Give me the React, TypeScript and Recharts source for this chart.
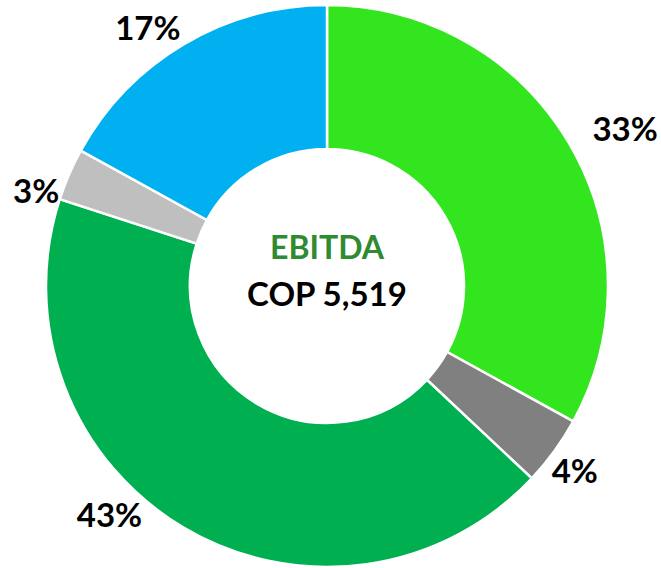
import { PieChart, Pie, Cell } from 'recharts';

// EBITDA breakdown, clockwise from 12 o'clock
const segments = ['Seg A', 'Seg B', 'Seg C', 'Seg D', 'Seg E'];
const shares = [33, 4, 43, 3, 17];
const colors = ['#33E51F', '#808080', '#00B050', '#BFBFBF', '#00B0F0'];
// best-fit label placement: angle nudge (deg, clockwise) and distance past the rim
const labelNudge = [2.8, 0.7, 12.9, -5.3, -4.2];
const labelGap = [56, 28, 35, 25, 33];

const centerTitle = 'EBITDA';
const centerValue = 'COP 5,519';

const data = segments.map((name, i) => ({ name, value: shares[i] }));

const RAD = Math.PI / 180;
const FONT = 'Lato, Calibri, "Open Sans", sans-serif';

const renderLabel = (props: any) => {
  const { cx, cy, midAngle, outerRadius, index, value } = props;
  const a = midAngle - labelNudge[index];
  const r = outerRadius + labelGap[index];
  const x = cx + r * Math.cos(-a * RAD);
  const y = cy + r * Math.sin(-a * RAD);
  return (
    <text
      x={x}
      y={y - 1}
      textAnchor="middle"
      dominantBaseline="central"
      fill="#000"
      fontSize={33}
      fontWeight={700}
      fontFamily={FONT}
    >
      {`${value}%`}
    </text>
  );
};

export default function App() {
  const cx = 327;
  const cy = 286;
  return (
    <div style={{ position: 'absolute', left: 0, top: 0, background: '#fff' }}>
      <PieChart width={661} height={568} margin={{ top: 0, right: 0, bottom: 0, left: 0 }}>
        <Pie
          data={data}
          dataKey="value"
          nameKey="name"
          cx={cx}
          cy={cy}
          innerRadius={137}
          outerRadius={281}
          startAngle={90}
          endAngle={-270}
          stroke="#fff"
          strokeWidth={2.5}
          label={renderLabel}
          labelLine={false}
          isAnimationActive={false}
        >
          {data.map((d, i) => (
            <Cell key={d.name} fill={colors[i]} />
          ))}
        </Pie>
        <text
          x={cx}
          y={246}
          textAnchor="middle"
          dominantBaseline="central"
          fill="#2E8B30"
          fontSize={32}
          fontWeight={700}
          fontFamily={FONT}
        >
          {centerTitle}
        </text>
        <text
          x={cx}
          y={293}
          textAnchor="middle"
          dominantBaseline="central"
          fill="#000"
          fontSize={33}
          fontWeight={700}
          fontFamily={FONT}
        >
          {centerValue}
        </text>
      </PieChart>
    </div>
  );
}
